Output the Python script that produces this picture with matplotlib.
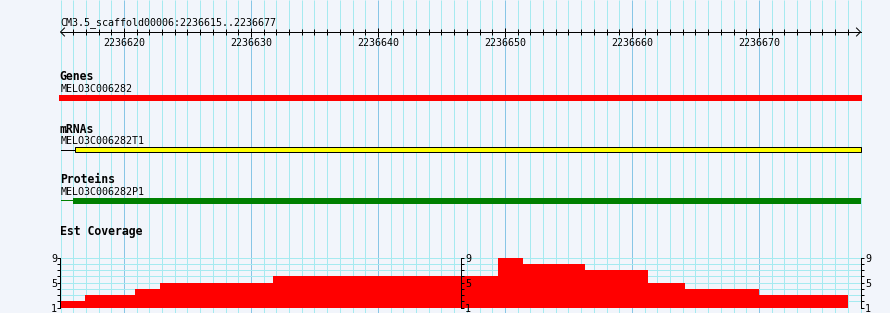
import numpy as np
import matplotlib
matplotlib.use("Agg")
import matplotlib.pyplot as plt

plt.rcParams['font.family'] = ['DejaVu Sans Mono']
plt.rcParams['font.size'] = 7.2

W, H = 890, 313
PX = 0.72  # one pixel in points at dpi 100

# region shown
ref_name = "CM3.5_scaffold00006"
view_start = 2236615
view_end = 2236677

# tracks
track_titles = ["Genes", "mRNAs", "Proteins", "Est Coverage"]
feature_names = ["MELO3C006282", "MELO3C006282T1", "MELO3C006282P1"]
gene_span = [2236614.9, 2236678.1]
mrna_span = [2236616.17, 2236678.0]
protein_span = [2236615.96, 2236678.0]

# est coverage (step bins)
cov_edges = [2236615.0, 2236616.95, 2236620.9, 2236622.85, 2236631.75, 2236649.45,
             2236651.4, 2236656.3, 2236661.25, 2236664.2, 2236670.0, 2236677.0]
cov_values = [2, 3, 4, 5, 6, 9, 8, 7, 5, 4, 3]
cov_ticks = [1, 2, 3, 4, 5, 6, 7, 8, 9]
cov_labels = ["1", "", "", "", "5", "", "", "", "9"]

bg = "#f2f5fb"
grid_minor = "#a6eaf0"
grid_major = "#88c6e6"

# pixel mapping
x0 = 60.5
ppb = 800 / (view_end - view_start + 1)

fig = plt.figure(figsize=(W / 100, H / 100), dpi=100)
fig.patch.set_facecolor(bg)
ax = fig.add_axes([0, 0, 1, 1])
ax.set_xlim(view_start - x0 / ppb, view_start + (W - x0) / ppb)
ax.set_ylim(H, 0)
ax.axis('off')

# vertical grid every base, darker every 10
pos = np.arange(view_start, view_end + 2)
minor = pos[pos % 10 != 0]
major = pos[pos % 10 == 0]
ax.vlines(minor, 0, H, color=grid_minor, lw=PX, zorder=0)
ax.vlines(major, 0, H, color=grid_major, lw=PX, zorder=0)

# ruler
ax.text(view_start, 25, "%s:%d..%d" % (ref_name, view_start, view_end), ha='left', va='baseline')
ax.plot([view_start, view_end + 1], [32, 32], color='black', lw=PX)
tk = np.arange(view_start + 1, view_end + 1)
ax.vlines(tk[tk % 10 != 0], 29, 35, color='black', lw=PX)
ax.vlines(tk[tk % 10 == 0], 28, 37, color='black', lw=PX)
aw = 4 / ppb
ax.plot([view_start + aw, view_start, view_start + aw], [28, 32, 36], color='black', lw=PX)
ax.plot([view_end + 1 - aw, view_end + 1, view_end + 1 - aw], [28, 32, 36], color='black', lw=PX)
for t in tk[tk % 10 == 0]:
    ax.text(t, 46, str(t), ha='center', va='baseline')

bold = dict(size=8.3, weight='bold', ha='left', va='baseline')

# Genes
ax.text(view_start - 0.05, 80, track_titles[0], **bold)
ax.text(view_start, 92, feature_names[0], ha='left', va='baseline')
ax.barh(98, gene_span[1] - gene_span[0], left=gene_span[0], height=6, color='#ff0000', lw=0)

# mRNAs
ax.text(view_start - 0.05, 133, track_titles[1], **bold)
ax.text(view_start, 144.3, feature_names[1], ha='left', va='baseline')
ax.plot([view_start, mrna_span[0]], [149.5, 149.5], color='black', lw=PX)
ax.barh(149.4, mrna_span[1] - mrna_span[0], left=mrna_span[0], height=4.4,
        color='#ffff00', edgecolor='black', lw=PX)

# Proteins
ax.text(view_start - 0.05, 183.3, track_titles[2], **bold)
ax.text(view_start, 195, feature_names[2], ha='left', va='baseline')
ax.plot([view_start, protein_span[0]], [200.2, 200.2], color='#008000', lw=PX)
ax.barh(200.7, protein_span[1] - protein_span[0], left=protein_span[0], height=6,
        color='#008000', lw=0)

# Est Coverage
ax.text(view_start - 0.05, 235, track_titles[3], **bold)

y_bot, y_top = 307.6, 257.8
cov = fig.add_axes([x0 / W, (H - y_bot) / H, ppb * (view_end - view_start + 1) / W,
                    (y_bot - y_top) / H])
cov.set_facecolor('none')
cov.set_xlim(view_start, view_end + 1)
cov.set_ylim(1, 9)
cov.set_axisbelow(True)
cov.grid(axis='y', color=grid_minor, lw=PX)
widths = np.diff(cov_edges)
cov.bar(cov_edges[:-1], cov_values, width=widths, align='edge', color='#ff0000', lw=0, zorder=2)
cov.set_xticks([])
cov.set_yticks(cov_ticks, labels=cov_labels)
for s in ['top', 'bottom', 'right']:
    cov.spines[s].set_visible(False)
cov.spines['left'].set_linewidth(PX)
cov.tick_params(axis='y', direction='out', length=3 * PX, width=PX, pad=0.4)

for loc in [0.5, 'right']:
    sec = cov.secondary_yaxis(loc)
    sec.set_zorder(5)
    sec.set_yticks(cov_ticks, labels=cov_labels)
    sec.spines['right'].set_linewidth(PX)
    sec.tick_params(axis='y', direction='out', length=3 * PX, width=PX, pad=1.0)

fig.savefig("out.png", dpi=100, facecolor=bg)
